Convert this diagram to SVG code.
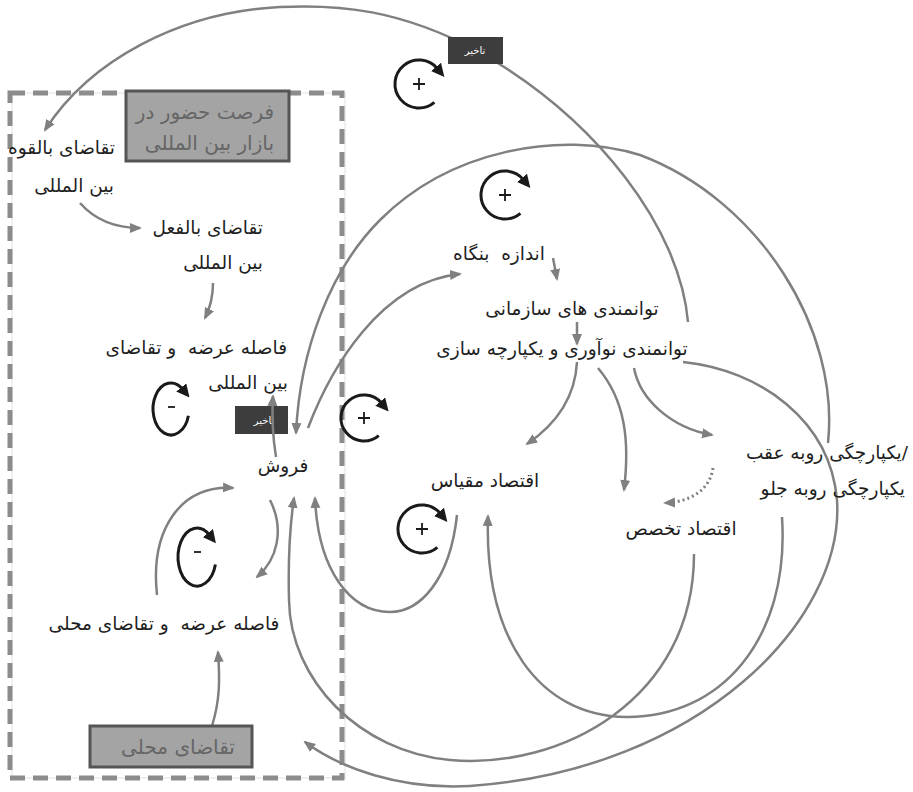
<svg xmlns="http://www.w3.org/2000/svg" width="913" height="792" viewBox="0 0 913 792">
<defs>
<style>
text{white-space:pre;}
.t{font-family:"DejaVu Sans","Noto Sans",sans-serif;font-size:18.5px;fill:#1e1e1e;}
.bt{font-family:"DejaVu Sans","Noto Sans",sans-serif;font-size:20px;fill:#666;}
.dt{font-family:"DejaVu Sans","Noto Sans",sans-serif;font-size:10px;fill:#fff;}
.ca{fill:none;stroke:#808080;stroke-width:2.5;marker-end:url(#ah);}
.cd{fill:none;stroke:#808080;stroke-width:3;stroke-dasharray:2 3;marker-end:url(#ah);}
.lp{fill:none;stroke:#1a1a1a;stroke-width:3;marker-end:url(#lh);}
.sg{stroke:#1a1a1a;stroke-width:1.8;fill:none;}
.box{fill:#a4a4a4;stroke:#555;stroke-width:3;}
.dl{fill:#3d3d3d;}
</style>
<marker id="ah" markerUnits="userSpaceOnUse" markerWidth="12" markerHeight="12" viewBox="0 0 12 12" refX="10" refY="6" orient="auto">
<path d="M0,1 L12,6 L0,11 z" fill="#808080"/>
</marker>
<marker id="lh" markerUnits="userSpaceOnUse" markerWidth="13" markerHeight="13" viewBox="0 0 12 12" refX="2" refY="6" orient="auto">
<path d="M0,0 L12,6 L0,12 z" fill="#1a1a1a"/>
</marker>
</defs>
<rect width="913" height="792" fill="#fff"/>

<g id="frame">
<rect x="12" y="93" width="333" height="685" fill="none" stroke="#e2e2e2" stroke-width="1"/>
<rect x="10" y="93" width="332" height="685" fill="none" stroke="#8c8c8c" stroke-width="5" stroke-dasharray="15 8"/>
</g>

<g id="delay-sales">
<rect class="dl" x="235" y="406" width="53" height="28"/>
<text class="dt" x="264" y="424" text-anchor="middle">تاخیر</text>
</g>

<g id="connectors">
<path class="ca" d="M688,322 C680,230 600,120 476,50 C400,10 340,4 280,7 C180,12 90,60 45,130"/>
<path class="ca" d="M828,443 C840,330 760,200 640,155 C560,130 450,150 380,220 C330,270 300,350 296,433"/>
<path class="ca" d="M683,362 C760,370 830,420 837,500 C845,620 700,770 470,786 C400,790 340,768 305,742"/>
<path class="ca" d="M694,554 C694,700 560,770 450,760 C360,752 290,680 289,600 C288,560 290,525 294,498"/>
<path class="ca" d="M782,517 C790,640 720,718 626,717 C540,716 484,640 488,516"/>
<path class="ca" d="M457,515 C450,580 420,612 390,612 C350,612 318,570 315,498"/>
<path class="ca" d="M80,203 C95,220 115,228 140,228"/>
<path class="ca" d="M213,283 C213,300 209,310 205,318"/>
<path class="ca" d="M276,457 C272,432 272,412 273,396"/>
<path class="ca" d="M308,428 C330,370 380,282 460,274"/>
<path class="ca" d="M553,258 L557,279"/>
<path class="ca" d="M577,322 L577,344"/>
<path class="ca" d="M577,362 C575,400 555,425 527,444"/>
<path class="ca" d="M598,368 C625,400 630,440 624,490"/>
<path class="ca" d="M634,368 C640,400 672,428 712,435"/>
<path class="cd" d="M713,468 C710,490 690,502 665,503"/>
<path class="ca" d="M157,595 C150,530 180,485 233,488"/>
<path class="ca" d="M270,500 C285,530 277,560 257,577"/>
<path class="ca" d="M212,726 C220,700 220,680 218,652"/>
</g>

<g id="delay-top">
<rect class="dl" x="448" y="37" width="55" height="27"/>
<text class="dt" x="475" y="54" text-anchor="middle">تاخیر</text>
</g>

<g id="loop-r1">
<path class="lp" d="M434.4,102.4 A24,24 0 1 1 437.4,68.6"/>
<path class="sg" d="M413,84 h12 M419,78 v12"/>
</g>
<g id="loop-r2">
<path class="lp" d="M520.4,213.4 A24,24 0 1 1 523.4,179.6"/>
<path class="sg" d="M499,195 h12 M505,189 v12"/>
</g>
<g id="loop-r3">
<path class="lp" d="M378.8,435.6 A23,23 0 1 1 381.6,403.2"/>
<path class="sg" d="M358,418 h12 M364,412 v12"/>
</g>
<g id="loop-r4">
<path class="lp" d="M437.4,547.4 A24,24 0 1 1 440.4,513.6"/>
<path class="sg" d="M416,529 h12 M422,523 v12"/>
</g>
<g id="loop-b1">
<path class="lp" d="M188.4,415.7 A18,26 0 1 1 182.6,389.1"/>
<path class="sg" d="M168,407 h7"/>
</g>
<g id="loop-b2">
<path class="lp" d="M215.4,564.5 A19,29 0 1 1 209.2,534.8"/>
<path class="sg" d="M194,552 h7"/>
</g>

<g id="intl-opportunity">
<rect class="box" x="126" y="91" width="163" height="70"/>
<text class="bt" x="274" y="119" text-anchor="end">فرصت حضور در</text>
<text class="bt" x="274" y="150" text-anchor="end">بازار بین المللی</text>
</g>
<g id="local-demand">
<rect class="box" x="90" y="726" width="162" height="41"/>
<text class="bt" x="178" y="754" text-anchor="middle">تقاضای محلی</text>
</g>
<g id="potential-intl-demand">
<text class="t" x="115" y="154" text-anchor="end">تقاضای بالقوه</text>
<text class="t" x="114" y="192" text-anchor="end">بین المللی</text>
</g>
<g id="actual-intl-demand">
<text class="t" x="263" y="234" text-anchor="end">تقاضای بالفعل</text>
<text class="t" x="263" y="269" text-anchor="end">بین المللی</text>
</g>
<g id="intl-gap">
<text class="t" x="287" y="354" text-anchor="end">فاصله عرضه  و تقاضای</text>
<text class="t" x="288" y="389" text-anchor="end">بین المللی</text>
</g>
<g id="sales">
<text class="t" x="283" y="472" text-anchor="middle">فروش</text>
</g>
<g id="local-gap">
<text class="t" x="164" y="630" text-anchor="middle">فاصله عرضه  و تقاضای محلی</text>
</g>
<g id="firm-size">
<text class="t" x="499" y="260" text-anchor="middle">اندازه  بنگاه</text>
</g>
<g id="org-capabilities">
<text class="t" x="572" y="315" text-anchor="middle">توانمندی های سازمانی</text>
</g>
<g id="innovation-capability">
<text class="t" x="562" y="355" text-anchor="middle">توانمندی نوآوری و یکپارچه سازی</text>
</g>
<g id="economies-of-scale">
<text class="t" x="485" y="487" text-anchor="middle">اقتصاد مقیاس</text>
</g>
<g id="economies-of-specialization">
<text class="t" x="681" y="535" text-anchor="middle">اقتصاد تخصص</text>
</g>
<g id="integration">
<text class="t" x="908" y="459" text-anchor="end">یکپارچگی روبه عقب/</text>
<text class="t" x="905" y="495" text-anchor="end">یکپارچگی روبه جلو</text>
</g>
</svg>
